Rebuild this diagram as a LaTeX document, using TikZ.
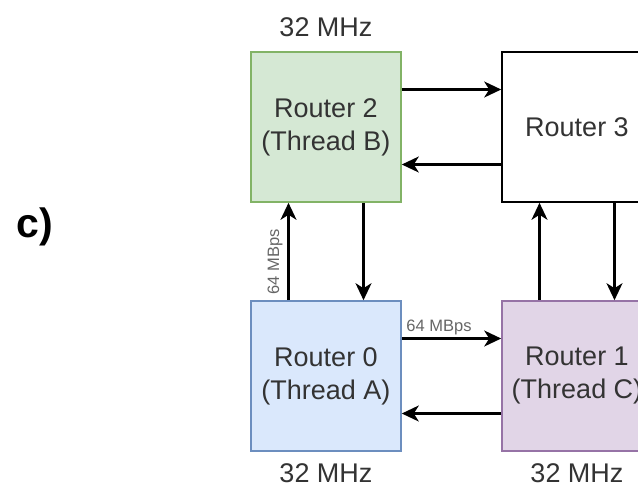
\documentclass[tikz,border=0pt]{standalone}
\usepackage{fontspec}
\setmainfont{Liberation Sans}
\usetikzlibrary{arrows.meta,calc}
\definecolor{greenfill}{HTML}{D5E8D4}
\definecolor{greenline}{HTML}{82B366}
\definecolor{bluefill}{HTML}{DAE8FC}
\definecolor{blueline}{HTML}{6C8EBF}
\definecolor{purplefill}{HTML}{E1D5E7}
\definecolor{purpleline}{HTML}{9673A6}
\definecolor{txt}{HTML}{333333}
\tikzset{
  router/.style={draw, line width=1.6pt, minimum width=150pt, minimum height=150pt,
    inner sep=0pt, align=center, text=txt, font=\fontsize{27}{33}\selectfont},
  link/.style={line width=2.2pt, -{Stealth[length=17pt,width=16pt,inset=5pt]}},
  freq/.style={text=txt, font=\fontsize{27}{33}\selectfont},
  rate/.style={text=black!60, font=\fontsize{16.5}{19}\selectfont, inner sep=0pt}
}
\begin{document}
\begin{tikzpicture}[x=1pt,y=-1pt]
  \useasboundingbox (0,0) rectangle (638,488);
  \clip (0,0) rectangle (638,488);
  \fill[white] (0,0) rectangle (638,488);

  % panel tag
  \node[font=\fontsize{41}{46}\selectfont\bfseries, text=black] (tag) at (35,227) {c)};

  % routers
  \node[router, fill=greenfill, draw=greenline] (r2) at (326,127) {Router 2\\(Thread B)};
  \node[router, fill=white, draw=black] (r3) at (577,127) {Router 3};
  \node[router, fill=bluefill, draw=blueline] (r0) at (326,376) {Router 0\\(Thread A)};
  \node[router, fill=purplefill, draw=purpleline] (r1) at (577,376) {Router 1\\(Thread C)};

  % clock labels
  \node[freq] (f2) at (326,27) {32 MHz};
  \node[freq] (f0) at (326,473) {32 MHz};
  \node[freq] (f1) at (577,473) {32 MHz};

  % horizontal links
  \draw[link] ([yshift=37.5pt]r2.east) -- ([yshift=37.5pt]r3.west);
  \draw[link] ([yshift=-37.5pt]r3.west) -- ([yshift=-37.5pt]r2.east);
  \draw[link] ([yshift=37.5pt]r0.east) -- ([yshift=37.5pt]r1.west);
  \draw[link] ([yshift=-37.5pt]r1.west) -- ([yshift=-37.5pt]r0.east);

  % vertical links
  \draw[link] ([xshift=-37.5pt]r0.north) -- ([xshift=-37.5pt]r2.south);
  \draw[link] ([xshift=37.5pt]r2.south) -- ([xshift=37.5pt]r0.north);
  \draw[link] ([xshift=-37.5pt]r1.north) -- ([xshift=-37.5pt]r3.south);
  \draw[link] ([xshift=37.5pt]r3.south) -- ([xshift=37.5pt]r1.north);

  % bandwidth labels
  \node[rate] (bwh) at (439,327) {64 MBps};
  \node[rate, rotate=90] (bwv) at (275,262) {64 MBps};
\end{tikzpicture}
\end{document}
